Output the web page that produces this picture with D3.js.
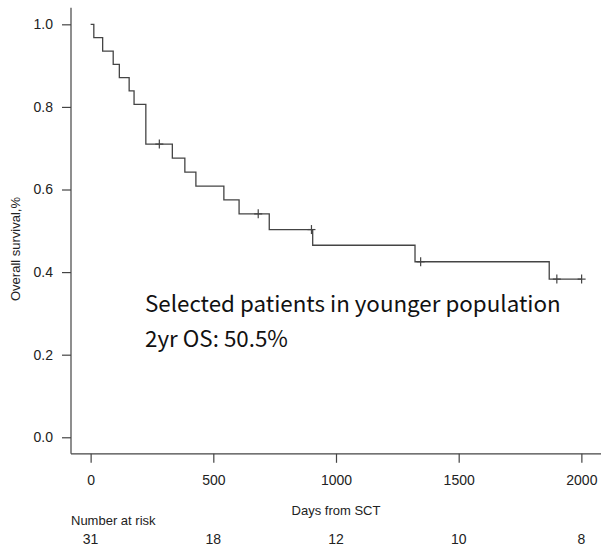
<!DOCTYPE html>
<html><head><meta charset="utf-8">
<script src="https://cdn.jsdelivr.net/npm/d3@7"></script>
<style>body{margin:0;background:#fff}</style>
</head><body>
<svg id="c" width="601" height="551"></svg>
<script>
const stepTimes = [0, 13, 49, 92, 117, 157, 177, 225, 333, 384, 429, 543, 605, 728, 905, 1322, 1869];
const survival  = [1.0, 0.968, 0.935, 0.903, 0.871, 0.839, 0.806, 0.710, 0.676, 0.642, 0.608, 0.575, 0.541, 0.503, 0.465, 0.425, 0.383];
const endTime = 2001;
const censorTimes = [280, 683, 900, 1345, 1900, 2001];
const xTicks = [0, 500, 1000, 1500, 2000];
const yTicks = [0.0, 0.2, 0.4, 0.6, 0.8, 1.0];
const atRisk = [31, 18, 12, 10, 8];
const annotation = ["Selected patients in younger population", "2yr OS: 50.5%"];

const svg = d3.select("#c");
const x = d3.scaleLinear().domain([-80, 2080]).range([71, 601]);
const y = d3.scaleLinear().domain([-0.04, 1.04]).range([453.8, 7.8]);
const col = "#444";
const font = "'Liberation Sans', Arial, sans-serif";

// axes lines
svg.append("line").attr("x1", 71).attr("x2", 71).attr("y1", y(1.04)).attr("y2", y(-0.04)).attr("stroke", col).attr("stroke-width", 1.2);
svg.append("line").attr("x1", 71).attr("x2", 601).attr("y1", y(-0.04)).attr("y2", y(-0.04)).attr("stroke", col).attr("stroke-width", 1.2);

const yAxis = d3.axisLeft(y).tickValues(yTicks).tickFormat(d3.format(".1f")).tickSize(9).tickPadding(9);
const gy = svg.append("g").attr("transform", "translate(71,0)").call(yAxis);
gy.select(".domain").remove();
gy.selectAll("line").attr("stroke", col).attr("stroke-width", 1.2);
gy.selectAll("text").attr("font-family", font).attr("font-size", 14).attr("fill", "#222");

const xAxis = d3.axisBottom(x).tickValues(xTicks).tickFormat(d3.format("d")).tickSize(9).tickPadding(12);
const gx = svg.append("g").attr("transform", `translate(0,${y(-0.04)})`).call(xAxis);
gx.select(".domain").remove();
gx.selectAll("line").attr("stroke", col).attr("stroke-width", 1.2);
gx.selectAll("text").attr("font-family", font).attr("font-size", 14).attr("fill", "#222");

// labels
svg.append("text").attr("x", 336).attr("y", 515).attr("text-anchor", "middle")
  .attr("font-family", font).attr("font-size", 13).attr("fill", "#222").text("Days from SCT");
svg.append("text").attr("transform", "translate(20,249) rotate(-90)").attr("text-anchor", "middle")
  .attr("font-family", font).attr("font-size", 13).attr("fill", "#222").text("Overall survival,%");
svg.append("text").attr("x", 71).attr("y", 525)
  .attr("font-family", font).attr("font-size", 13).attr("fill", "#222").text("Number at risk");
svg.selectAll(".risk").data(atRisk).enter().append("text")
  .attr("x", (d, i) => x(xTicks[i])).attr("y", 544).attr("text-anchor", "middle")
  .attr("font-family", font).attr("font-size", 14).attr("fill", "#222").text(d => d);

// KM curve
const pts = stepTimes.map((t, i) => [t, survival[i]]);
pts.push([endTime, survival[survival.length - 1]]);
const line = d3.line().x(d => x(d[0])).y(d => y(d[1])).curve(d3.curveStepAfter);
svg.append("path").attr("d", line(pts)).attr("fill", "none").attr("stroke", col).attr("stroke-width", 1.3);

function survAt(t) {
  let s = 1;
  for (let i = 0; i < stepTimes.length; i++) if (stepTimes[i] <= t) s = survival[i];
  return s;
}
const cg = svg.append("g").attr("stroke", col).attr("stroke-width", 1.2);
censorTimes.forEach(t => {
  const cx = x(t), cy = y(survAt(t));
  cg.append("line").attr("x1", cx).attr("x2", cx).attr("y1", cy - 4.5).attr("y2", cy + 4.5);
  cg.append("line").attr("x1", cx - 4).attr("x2", cx + 4).attr("y1", cy).attr("y2", cy);
});

// annotation
const afont = "'Noto Sans CJK JP', 'Noto Sans', sans-serif";
const a1 = svg.append("text").attr("x", 145).attr("y", 311.5).attr("font-family", afont).attr("font-size", 20).attr("fill", "#111").text(annotation[0]);
const w = a1.node().getComputedTextLength();
const fs = 20 * 416 / w;
a1.attr("font-size", fs);
svg.append("text").attr("x", 145).attr("y", 346.5).attr("font-family", afont).attr("font-size", fs).attr("fill", "#111").text(annotation[1]);
</script>
</body></html>
